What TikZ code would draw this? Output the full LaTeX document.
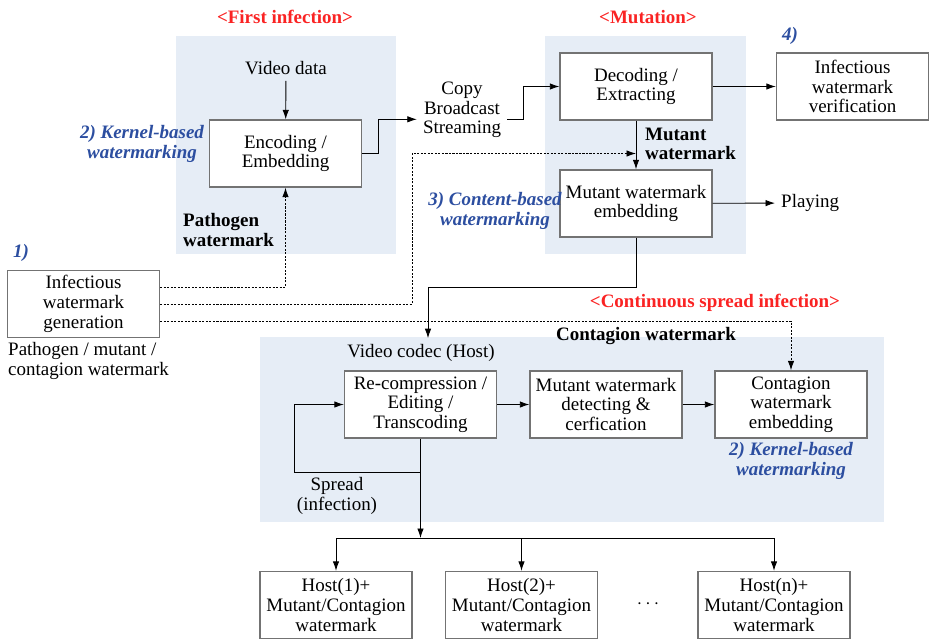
\documentclass[tikz,border=0pt]{standalone}
\usepackage{fontspec}
\setmainfont{Liberation Serif}[
  BoldFont={Liberation Serif Bold},
  ItalicFont={Liberation Serif Italic},
  BoldItalicFont={Liberation Serif Bold Italic}]
\usepackage{xcolor}
\usepackage{tikz}
\usetikzlibrary{arrows.meta, positioning}
\definecolor{panelblue}{RGB}{230,237,246}
\definecolor{labelblue}{RGB}{44,78,160}
\definecolor{infred}{RGB}{250,35,35}
\newcommand{\figfont}{\fontsize{10.8}{11.2}\selectfont}

\begin{document}
\begin{tikzpicture}[
    x=0.02cm, y=-0.02cm,
    every node/.style={align=center, font=\figfont},
    >={Latex[length=1.9mm,width=1.3mm]},
    box/.style={draw=black!55, line width=0.8pt, fill=white,
      minimum width=3.04cm, minimum height=1.34cm, inner sep=1pt},
    arrow/.style={->, line width=0.5pt},
    dotarrow/.style={->, line width=0.5pt, dash pattern=on 1.2pt off 0.8pt},
    stage/.style={text=infred, font=\figfont\bfseries},
    method/.style={text=labelblue, font=\figfont\bfseries\itshape},
    tag/.style={font=\figfont\bfseries},
    panel/.style={fill=panelblue}
  ]
  \useasboundingbox (0,0) rectangle (930,639);

  % Shaded panels
  \fill[panel] (176,36) rectangle (396,254);
  \fill[panel] (545,36) rectangle (746,254);
  \fill[panel] (260,337) rectangle (884,522);

  % Stage titles
  \node[stage] (first) at (285,17) {\textless First infection\textgreater};
  \node[stage] (mutation) at (648,17) {\textless Mutation\textgreater};
  \node[stage] (spreadinf) at (715,303) {\textless Continuous spread infection\textgreater};

  % Boxes
  \node[box] (enc) at (285.5,153.5) {Encoding /\\Embedding};
  \node[box] (gen) at (83.5,304) {Infectious\\watermark\\generation};
  \node[box] (dec) at (636,86.5) {Decoding /\\Extracting};
  \node[box] (verif) at (852.5,86.5) {Infectious\\watermark\\verification};
  \node[box] (emb) at (636,203.5) {Mutant watermark\\embedding};
  \node[box] (recomp) at (420.5,404.5) {Re-compression /\\Editing /\\Transcoding};
  \node[box] (detect) at (606,404.5) {Mutant watermark\\detecting \&\\cerfication};
  \node[box] (contag) at (791,404.5) {Contagion\\watermark\\embedding};
  \node[box] (host1) at (336,605) {Host(1)+\\Mutant/Contagion\\watermark};
  \node[box] (host2) at (521.5,605) {Host(2)+\\Mutant/Contagion\\watermark};
  \node[box] (hostn) at (774,605) {Host(n)+\\Mutant/Contagion\\watermark};
  \node (dots) at (648,604) {$\cdots$};

  % Plain labels
  \node (video) at (286,68) {Video data};
  \node (copy) at (462,110) {Copy\\Broadcast\\Streaming};
  \node[anchor=west] (playing) at (775,203) {Playing};
  \node (codec) at (421,353) {Video codec (Host)};
  \node (spread) at (337,496) {Spread\\(infection)};
  \node[anchor=west, align=left] (kinds) at (2,361) {Pathogen / mutant /\\contagion watermark};

  % Bold and blue labels
  \node[tag, anchor=west, align=left] (pathwm) at (177,230) {Pathogen\\watermark};
  \node[tag, anchor=west, align=left] (mutwm) at (639,144) {Mutant\\watermark};
  \node[tag] (contwm) at (646,336) {Contagion watermark};
  \node[method] (num1) at (21,253) {1)};
  \node[method] (num4) at (790,36) {4)};
  \node[method] (kernela) at (142,144) {2) Kernel-based\\watermarking};
  \node[method] (content) at (495,211) {3) Content-based\\watermarking};
  \node[method] (kernelb) at (791,461) {2) Kernel-based\\watermarking};

  % Helper points
  \coordinate (detour) at (412,153.5);
  \coordinate (bend) at (428,287);
  \coordinate (loop) at (294,472);
  \coordinate (split) at (420.5,538);

  % Arrows
  \draw[arrow] (video) -- (enc);
  \draw[arrow] (enc.east) -- ++(16,0) |- (copy.west |- enc.north);
  \draw[arrow] (copy.east |- enc.north) -- ++(16,0) |- (dec.west);
  \draw[arrow] (dec) -- (verif);
  \draw[arrow] (dec) -- (emb);
  \draw[arrow] (emb) -- (playing);
  \draw[arrow] (emb.south) |- (bend) -- (bend |- codec.north);
  \draw[arrow] (recomp) -- (detect);
  \draw[arrow] (detect) -- (contag);
  \draw[arrow] (recomp.south) -- (split);
  \draw[arrow] (loop -| recomp.south) -- (loop) |- (recomp.west);
  \draw[line width=0.5pt] (split -| host1) -- (split -| hostn);
  \foreach \h in {host1,host2,hostn}
    \draw[arrow] (split -| \h) -- (\h.north);

  % Dotted watermark feeds
  \draw[dotarrow] ([yshift=0.34cm]gen.east) -| (enc.south);
  \draw[dotarrow] (gen.east) -| (detour) -- (detour -| dec.south);
  \draw[dotarrow] ([yshift=-0.34cm]gen.east) -| (contag.north);
\end{tikzpicture}
\end{document}
